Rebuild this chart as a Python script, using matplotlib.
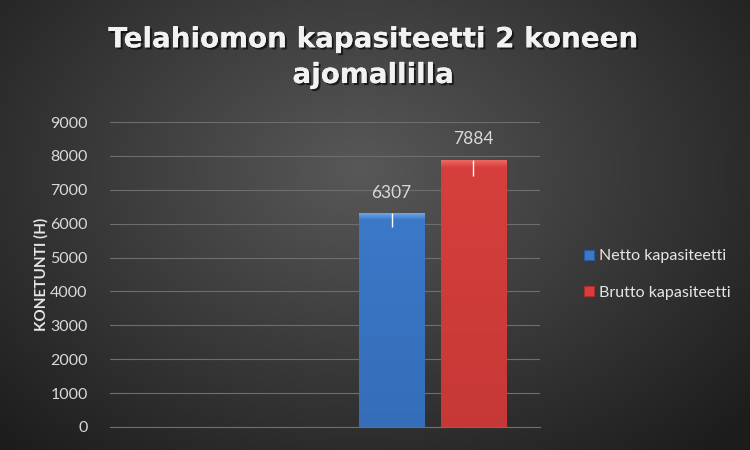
import numpy as np
import matplotlib
matplotlib.use("Agg")
import matplotlib.pyplot as plt
import matplotlib.patheffects as pe

plt.rcParams['font.family'] = ['Lato', 'DejaVu Sans']

# data
categories = ['', 'kapasiteetti']
series_names = ['Netto kapasiteetti', 'Brutto kapasiteetti']
series_values = [6307, 7884]
series_err = [400, 470]
yticks = [0, 1000, 2000, 3000, 4000, 5000, 6000, 7000, 8000, 9000]
colors = ['#3b78c8', '#d63f3c']
light = ['#6aa5ea', '#ee6b66']
dark = ['#2a5a9a', '#a82d2b']

fig = plt.figure(figsize=(7.5, 4.5), dpi=100)

# radial background
bg = fig.add_axes([0, 0, 1, 1])
yy, xx = np.mgrid[0:450, 0:750]
r = np.sqrt(((xx - 360) / 520.0) ** 2 + ((yy - 170) / 380.0) ** 2)
r = np.clip(r, 0, 1)
c0 = np.array([0x58, 0x58, 0x58]) / 255
c1 = np.array([0x1c, 0x1c, 0x1c]) / 255
img = c0[None, None, :] * (1 - r[..., None]) + c1[None, None, :] * r[..., None]
bg.imshow(img, aspect='auto', extent=[0, 1, 0, 1], origin='upper')
bg.axis('off')

ax = fig.add_axes([110 / 750, 23 / 450, 430 / 750, 305 / 450])
ax.set_facecolor('none')
ax.set_xlim(-0.5, 1.5)
ax.set_ylim(0, 9000)

width = 0.305
offsets = [-0.19, 0.19]
for i, name in enumerate(series_names):
    x = 1 + offsets[i]
    v = series_values[i]
    bars = ax.bar(x, v, width, color=colors[i], edgecolor=dark[i], linewidth=0.8,
                  zorder=3, label=name)
    # bevel shading inside the bar
    grad = np.linspace(0, 1, 200)
    shade = np.ones((200, 50, 4))
    base = np.array(matplotlib.colors.to_rgb(colors[i]))
    top = np.array(matplotlib.colors.to_rgb(light[i]))
    bot = np.array(matplotlib.colors.to_rgb(dark[i]))
    for k, g in enumerate(grad):
        if g < 0.03:
            col = top + (base - top) * g / 0.03
        else:
            col = base + (bot - base) * (g - 0.03) / 0.97 * 0.35
        shade[k, :, :3] = col
    im = ax.imshow(shade, extent=[x - width / 2, x + width / 2, 0, v], aspect='auto',
                   zorder=3.5, origin='upper')
    im.set_clip_path(bars.patches[0])
    ax.errorbar(x, v, yerr=[[series_err[i]], [0]], fmt='none', ecolor='white',
                elinewidth=1.0, capsize=0, zorder=4)
    ax.text(x, v + 370, str(v), ha='center', va='bottom', color='#d9d9d9', fontsize=12.5)

ax.set_yticks(yticks)
ax.set_yticklabels([str(t) for t in yticks], color='#d9d9d9', fontsize=11.5)
ax.set_xticks([])
ax.yaxis.grid(True, color='#6e6e6e', linewidth=0.8, zorder=0)
ax.set_axisbelow(True)
ax.tick_params(axis='y', length=0, pad=16)
for s in ['top', 'right', 'left']:
    ax.spines[s].set_visible(False)
ax.spines['bottom'].set_color('#6e6e6e')
ax.spines['bottom'].set_linewidth(0.8)
ax.set_ylabel('KONETUNTI (H)', color='#e6e6e6', fontsize=11, fontweight='bold',
              labelpad=1)

leg = ax.legend(loc='center left', bbox_to_anchor=(1.07, 0.5), frameon=False,
                fontsize=11.5, labelcolor='#e6e6e6', handlelength=0.6,
                handleheight=0.6, handletextpad=0.3, labelspacing=1.4)

fig.text(0.498, 0.873, 'Telahiomon kapasiteetti 2 koneen\najomallilla', ha='center',
         va='center', color='#f2f2f2', fontsize=20, fontweight='bold',
         family='DejaVu Sans', linespacing=1.35,
         path_effects=[pe.withSimplePatchShadow(offset=(1.5, -1.5), shadow_rgbFace='black',
                                                alpha=0.6), pe.Normal()])

fig.savefig('out.png', dpi=100)
